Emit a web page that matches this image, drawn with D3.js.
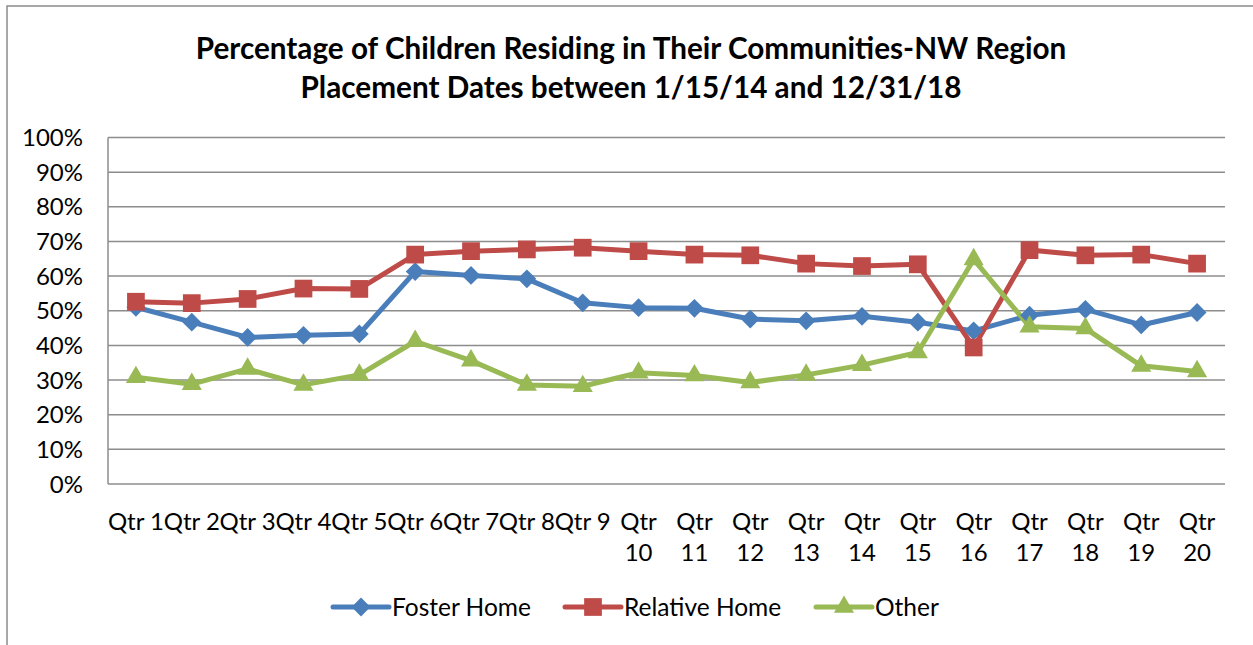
<!DOCTYPE html>
<html>
<head>
<meta charset="utf-8">
<script src="https://cdn.jsdelivr.net/npm/d3@7"></script>
<style>
  body { margin: 0; background: #fff; }
  text { font-family: Lato, "Open Sans", sans-serif; fill: #000; }
</style>
</head>
<body>
<div id="chart"></div>
<script>
// data
var quarters = ["Qtr 1","Qtr 2","Qtr 3","Qtr 4","Qtr 5","Qtr 6","Qtr 7","Qtr 8","Qtr 9","Qtr 10",
    "Qtr 11","Qtr 12","Qtr 13","Qtr 14","Qtr 15","Qtr 16","Qtr 17","Qtr 18","Qtr 19","Qtr 20"];
var fosterHome = [51.0, 46.7, 42.3, 42.9, 43.3, 61.3, 60.2, 59.2, 52.3, 50.9,
    50.7, 47.6, 47.1, 48.4, 46.7, 44.2, 48.7, 50.4, 45.9, 49.5];
var relativeHome = [52.6, 52.2, 53.4, 56.4, 56.3, 66.2, 67.2, 67.7, 68.2, 67.2,
    66.2, 66.0, 63.6, 62.9, 63.4, 39.4, 67.5, 66.0, 66.2, 63.6];
var other = [30.8, 28.8, 33.2, 28.6, 31.5, 41.2, 35.6, 28.6, 28.2, 32.1,
    31.3, 29.3, 31.5, 34.3, 38.0, 64.8, 45.4, 44.9, 34.1, 32.5];
var yTicks = [0, 10, 20, 30, 40, 50, 60, 70, 80, 90, 100];
var seriesNames = ["Foster Home", "Relative Home", "Other"];

var series = [
    {name: seriesNames[0], values: fosterHome, color: "#4a7ebb", marker: "diamond"},
    {name: seriesNames[1], values: relativeHome, color: "#be4b48", marker: "square"},
    {name: seriesNames[2], values: other, color: "#98b954", marker: "triangle"}
];

// marker shapes, diamond is just a rotated square
function markerPath(m) {
    if (m === "triangle") return d3.symbol().type(d3.symbolTriangle2).size(290)();
    if (m === "square") return d3.symbol().type(d3.symbolSquare2).size(400)();
    return d3.symbol().type(d3.symbolSquare2).size(225)();
}
function markerRot(m) { return m === "diamond" ? " rotate(45)" : ""; }

var svgWidth = 1253, svgHeight = 645;
var plot = {left: 108, right: 1225, top: 137.5, bottom: 484};

var svg = d3.select("#chart").append("svg")
    .attr("width", svgWidth)
    .attr("height", svgHeight);

// outer chart border (runs off the right and bottom edges)
svg.append("rect")
    .attr("x", 7).attr("y", 6)
    .attr("width", svgWidth + 20).attr("height", svgHeight + 20)
    .attr("fill", "none")
    .attr("stroke", "#8c8c8c")
    .attr("stroke-width", 1.5);

// title
var title = svg.append("text")
    .attr("text-anchor", "middle")
    .style("font-weight", "bold")
    .style("font-size", "29.7px");
title.append("tspan").attr("x", 631).attr("y", 59)
    .text("Percentage of Children Residing in Their Communities-NW Region");
title.append("tspan").attr("x", 631).attr("y", 98)
    .text("Placement Dates between 1/15/14 and 12/31/18");

var x = d3.scaleBand()
    .domain(quarters)
    .range([plot.left, plot.right]);
var cx = d => x(d) + x.bandwidth() / 2;

var y = d3.scaleLinear()
    .domain([0, 100])
    .range([plot.bottom, plot.top]);

// gridlines
svg.append("g")
    .selectAll("line")
    .data(yTicks)
    .enter()
    .append("line")
    .attr("x1", plot.left).attr("x2", plot.right)
    .attr("y1", d => y(d)).attr("y2", d => y(d))
    .attr("stroke", "#8c8c8c")
    .attr("stroke-width", 1.5);

// left axis line
svg.append("line")
    .attr("x1", plot.left).attr("x2", plot.left)
    .attr("y1", plot.top).attr("y2", plot.bottom)
    .attr("stroke", "#8c8c8c")
    .attr("stroke-width", 1.5);

// y tick labels
svg.append("g")
    .selectAll("text")
    .data(yTicks)
    .enter()
    .append("text")
    .attr("x", 83)
    .attr("y", d => y(d))
    .attr("dy", "0.36em")
    .attr("text-anchor", "end")
    .style("font-size", "24px")
    .text(d => d + "%");

// x tick labels, two digit ones wrap onto a second line
var xl = svg.append("g")
    .selectAll("text")
    .data(quarters)
    .enter()
    .append("text")
    .attr("text-anchor", "middle")
    .style("font-size", "24px");
xl.each(function (d) {
    var parts = d.split(" ");
    var t = d3.select(this);
    if (parts[1].length > 1) {
        t.append("tspan").attr("x", cx(d)).attr("y", 530).text(parts[0]);
        t.append("tspan").attr("x", cx(d)).attr("y", 561).text(parts[1]);
    } else {
        t.append("tspan").attr("x", cx(d)).attr("y", 530).text(d);
    }
});

// lines + markers
var line = d3.line()
    .x((d, i) => cx(quarters[i]))
    .y(d => y(d));

series.forEach(function (s) {
    svg.append("path")
        .datum(s.values)
        .attr("d", line)
        .attr("fill", "none")
        .attr("stroke", s.color)
        .attr("stroke-width", 5)
        .attr("stroke-linejoin", "round");
});

series.forEach(function (s) {
    svg.append("g")
        .selectAll("path")
        .data(s.values)
        .enter()
        .append("path")
        .attr("transform", (d, i) => `translate(${cx(quarters[i])},${y(d)})` + markerRot(s.marker))
        .attr("d", markerPath(s.marker))
        .attr("fill", s.color);
});

// legend
var legendX = [333, 565, 816];
var legend = svg.append("g")
    .selectAll("g")
    .data(series)
    .enter()
    .append("g")
    .attr("transform", (d, i) => `translate(${legendX[i]},607)`);

legend.append("line")
    .attr("x1", 0).attr("x2", 56)
    .attr("stroke", d => d.color)
    .attr("stroke-width", 5)
    .attr("stroke-linecap", "round");

legend.append("path")
    .attr("transform", d => `translate(28,0)` + markerRot(d.marker))
    .attr("d", d => markerPath(d.marker))
    .attr("fill", d => d.color);

legend.append("text")
    .attr("x", 59)
    .attr("dy", "0.36em")
    .style("font-size", "24.5px")
    .text(d => d.name);
</script>
</body>
</html>
